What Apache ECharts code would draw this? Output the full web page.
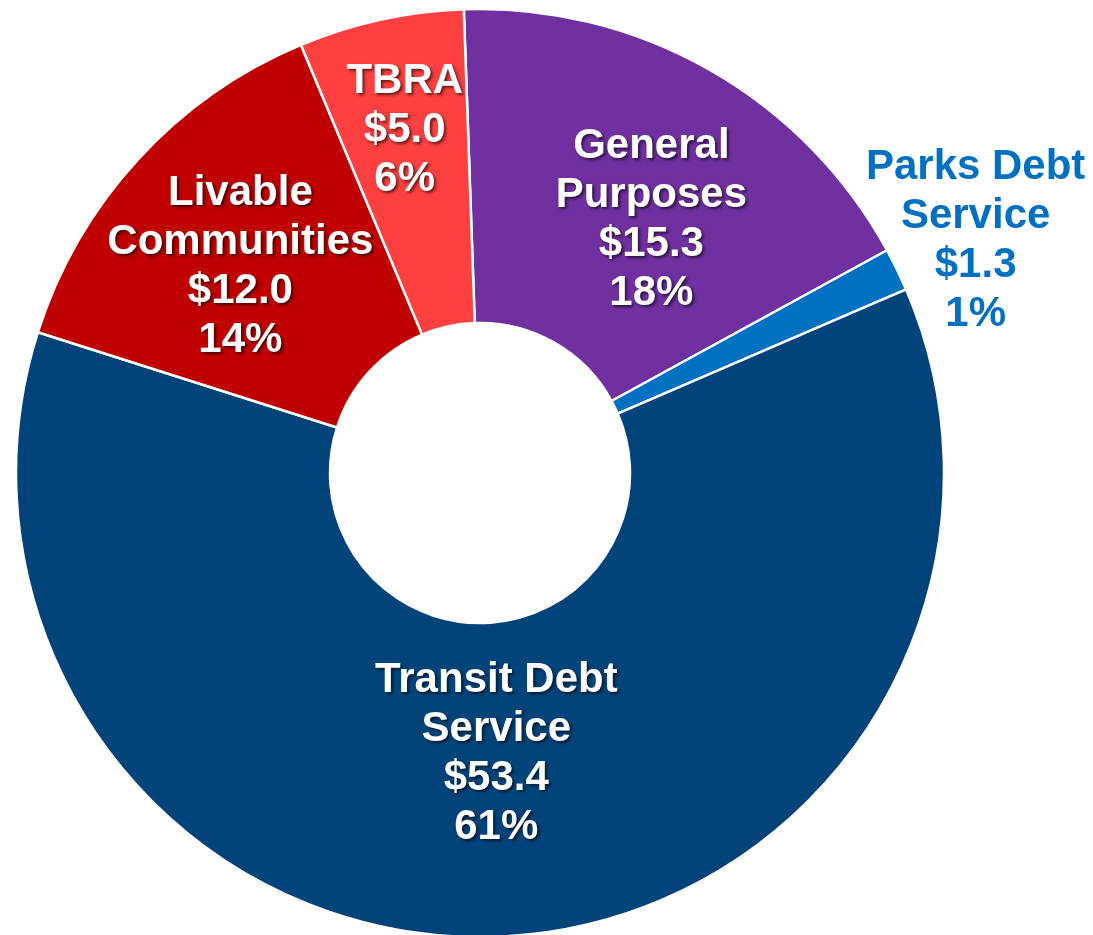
<!DOCTYPE html>
<html>
<head>
<meta charset="utf-8">
<script src="https://cdn.jsdelivr.net/npm/echarts@6/dist/echarts.min.js"></script>
<style>
  html, body { margin: 0; padding: 0; background: #ffffff; }
  #chart { width: 1093px; height: 935px; }
</style>
</head>
<body>
<div id="chart"></div>
<script>
// Data (clockwise from 12 o'clock)
const categories = ['General\nPurposes', 'Parks Debt\nService', 'Transit Debt\nService', 'Livable\nCommunities', 'TBRA'];
const values = [15.3, 1.3, 53.4, 12.0, 5.0];
const colors = ['#7030A0', '#0070C0', '#02447A', '#C00000', '#FF4040'];
const labelColors = ['#FFFFFF', '#0070C0', '#FFFFFF', '#FFFFFF', '#FFFFFF'];
const labelOffsets = [[18, 16], [217, -96], [1, -29], [-11, 3], [-9, -40]];

const total = values.reduce((a, b) => a + b, 0);

const data = categories.map((name, i) => ({
  name: name,
  value: values[i],
  itemStyle: { color: colors[i] },
  label: {
    color: labelColors[i],
    offset: labelOffsets[i],
    textShadowColor: i === 1 ? 'transparent' : 'rgba(0,0,0,0.6)',
    textShadowBlur: i === 1 ? 0 : 3,
    textShadowOffsetX: i === 1 ? 0 : 2,
    textShadowOffsetY: i === 1 ? 0 : 2
  }
}));

const chart = echarts.init(document.getElementById('chart'));
chart.setOption({
  animation: false,
  backgroundColor: '#ffffff',
  series: [{
    type: 'pie',
    center: [480, 473],
    radius: [150, 464],
    startAngle: 92,
    clockwise: true,
    avoidLabelOverlap: false,
    itemStyle: { borderColor: '#ffffff', borderWidth: 2.5 },
    emphasis: { disabled: true },
    labelLayout: { hideOverlap: false },
    label: {
      show: true,
      position: 'inside',
      fontFamily: 'Liberation Sans, Arial, sans-serif',
      fontWeight: 'bold',
      fontSize: 42,
      lineHeight: 49,
      align: 'center',
      formatter: function (p) {
        return p.name + '\n$' + p.value.toFixed(1) + '\n' + Math.round(p.value / total * 100) + '%';
      }
    },
    labelLine: { show: false },
    data: data
  }]
});
</script>
</body>
</html>
